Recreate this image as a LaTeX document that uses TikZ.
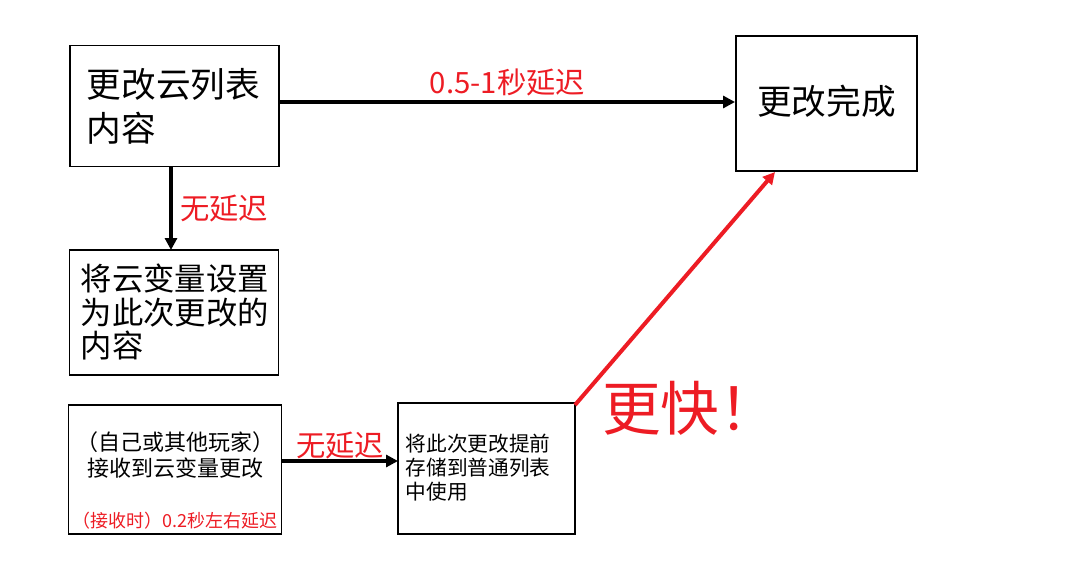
\documentclass[tikz,border=0pt]{standalone}
\usepackage{fontspec}
\setmainfont{Noto Sans CJK SC}
\usetikzlibrary{arrows.meta}
\definecolor{rd}{RGB}{237,28,36}
\begin{document}
\begin{tikzpicture}[x=0.75pt,y=-0.75pt,
 box/.style={draw,line width=1.2pt},
 arr/.style={line width=3pt,-{Triangle[length=9pt,width=9pt]}},
 lbl/.style={text=rd,font=\fontsize{22}{24}\selectfont}]
\useasboundingbox (0,0) rectangle (1069,567);
\node[box,minimum width=157pt,minimum height=91pt] (A) at (174.5,106) {};
\node[anchor=west,align=left,font=\fontsize{26}{33}\selectfont] at (82,106) {更改云列表\\内容};
\node[box,minimum width=136pt,minimum height=101pt] (B) at (826.5,103.5) {};
\node[font=\fontsize{26}{30}\selectfont] at (826.5,101) {更改完成};
\node[box,minimum width=157pt,minimum height=94pt] (C) at (174,312.5) {};
\node[anchor=west,align=left,font=\fontsize{23.5}{25}\selectfont] at (76,312) {将云变量设置\\为此次更改的\\内容};
\node[box,minimum width=160pt,minimum height=97pt] (D) at (175,469.5) {};
\node[align=center,font=\fontsize{16.5}{20}\selectfont] at (175,455) {（自己或其他玩家）\\接收到云变量更改};
\node[text=rd,font=\fontsize{13.5}{14}\selectfont] at (175,521) {（接收时）0.2秒左右延迟};
\node[box,minimum width=133pt,minimum height=98pt] (E) at (486.5,468.5) {};
\node[anchor=west,align=left,font=\fontsize{15.5}{18}\selectfont] at (401,468) {将此次更改提前\\存储到普通列表\\中使用};
\draw[arr] (A.east |- 0,102) -- (B.west |- 0,102) node[midway,above=0pt,lbl] {0.5-1秒延迟};
\draw[arr] (171,167) -- (171,250) node[midway,right=2pt,lbl] {无延迟};
\draw[arr] (282,461) -- (398,461) node[midway,above=-3pt,lbl] {无延迟};
\draw[arr,rd] (575,405) -- (775,172);
\node[text=rd,font=\fontsize{44}{46}\selectfont] at (690,408) {更快！};
\end{tikzpicture}
\end{document}
